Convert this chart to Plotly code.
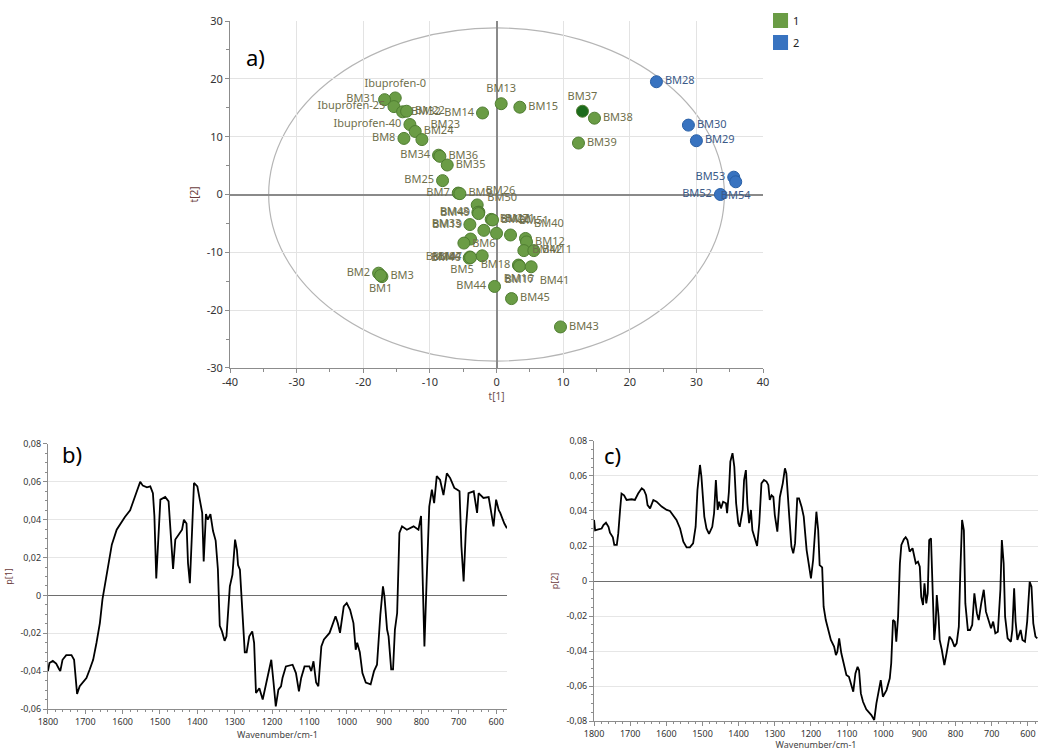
import plotly.graph_objects as go

# ---------------- Panel a) score scatter t[1] / t[2] ----------------
names = ["Ibuprofen-0", "BM31", "Ibuprofen-25", "BM32", "BM22", "BM14", "BM13", "BM15",
         "BM37", "BM38", "BM39", "Ibuprofen-40", "BM24", "BM23", "BM8", "BM34", "BM36",
         "BM35", "BM25", "BM7", "BM9", "BM26", "BM50", "BM48", "BM49", "BM27", "BM20",
         "BM33", "BM6", "BM21", "BM51", "BM19", "BM10", "BM40", "BM12", "BM42", "BM11",
         "BM4", "BM46", "BM47", "BM5", "BM18", "BM16", "BM17", "BM41", "BM44", "BM45",
         "BM43", "BM2", "BM3", "BM1",
         "BM28", "BM30", "BM29", "BM53", "BM54", "BM52"]
t1 = [-15.2, -16.8, -15.4, -14.1, -13.5, -2.1, 0.7, 3.5,
      12.9, 14.7, 12.3, -13.0, -12.2, -11.2, -13.9, -8.7, -8.5,
      -7.4, -8.1, -5.75, -5.5, -2.9, -2.65, -2.8, -2.7, -0.8, -0.6,
      -4.0, -1.9, 0.0, 2.1, -3.9, -4.9, 4.35, 4.5, 4.1, 5.6,
      -4.0, -4.1, -3.9, -2.15, 3.35, 3.3, 3.45, 5.2, -0.3, 2.25,
      9.6, -17.7, -17.2, -17.4,
      24.0, 28.8, 30.0, 35.6, 35.9, 33.6]
t2 = [16.7, 16.4, 15.2, 14.3, 14.4, 14.1, 15.7, 15.1,
      14.4, 13.2, 8.9, 12.1, 10.9, 9.5, 9.7, 6.8, 6.6,
      5.1, 2.4, 0.25, 0.15, -1.8, -3.05, -3.1, -3.3, -4.3, -4.4,
      -5.2, -6.2, -6.7, -7.0, -7.7, -8.4, -7.6, -8.2, -9.7, -9.7,
      -10.8, -11.0, -10.9, -10.6, -12.3, -12.2, -12.4, -12.5, -15.9, -18.0,
      -22.9, -13.6, -14.2, -14.0,
      19.5, 12.0, 9.3, 3.0, 2.2, 0.0]
groups = [1] * 51 + [2] * 6
group_labels = ["1", "2"]

# Hotelling ellipse semi-axes
ellipse_a = 34.2
ellipse_b = 28.8

# ---------------- Panel b) loading p[1] ----------------
wn_b = [1800, 1796, 1787, 1778, 1770, 1767, 1761, 1751, 1737, 1730, 1726, 1722, 1715, 1706,
        1697, 1688, 1679, 1670, 1661, 1654, 1647, 1638, 1629, 1616, 1603, 1594, 1580, 1571,
        1562, 1553, 1546, 1535, 1526, 1519, 1515, 1510, 1504, 1499, 1486, 1477, 1472, 1465,
        1459, 1450, 1441, 1436, 1429, 1425, 1420, 1414, 1409, 1400, 1392, 1387, 1383, 1377,
        1372, 1365, 1358, 1351, 1345, 1340, 1334, 1327, 1322, 1313, 1306, 1299, 1294, 1291,
        1286, 1279, 1273, 1268, 1261, 1253, 1248, 1243, 1234, 1225, 1217, 1208, 1202, 1196,
        1190, 1183, 1176, 1172, 1163, 1145, 1136, 1128, 1122, 1113, 1100, 1095, 1089, 1082,
        1076, 1068, 1061, 1046, 1030, 1024, 1018, 1008, 1000, 991, 982, 976, 972, 965, 958,
        949, 936, 927, 919, 910, 903, 899, 892, 888, 881, 876, 871, 865, 859, 852, 839, 821,
        808, 801, 796, 792, 786, 779, 772, 766, 759, 750, 741, 732, 723, 712, 705, 698, 693,
        687, 681, 674, 660, 651, 647, 634, 620, 611, 607, 600, 593, 589, 584, 578, 571]
p1 = [-0.040, -0.0357, -0.0346, -0.036, -0.039, -0.040, -0.034, -0.0315, -0.0315, -0.034,
      -0.043, -0.052, -0.048, -0.046, -0.0436, -0.039, -0.034, -0.025, -0.0146, -0.002,
      0.0065, 0.015, 0.0268, 0.0347, 0.039, 0.0414, 0.045, 0.0506, 0.055, 0.060, 0.058,
      0.0571, 0.0576, 0.054, 0.042, 0.009, 0.0347, 0.0506, 0.052, 0.0497, 0.0347, 0.014,
      0.0295, 0.032, 0.0347, 0.040, 0.038, 0.017, 0.0065, 0.0347, 0.0594, 0.0576, 0.0488,
      0.0436, 0.018, 0.043, 0.040, 0.043, 0.034, 0.029, 0.014, -0.016, -0.019, -0.024,
      -0.0216, 0.0048, 0.011, 0.0295, 0.024, 0.016, 0.0136, -0.011, -0.030, -0.030,
      -0.0216, -0.019, -0.025, -0.0515, -0.049, -0.055, -0.048, -0.0392, -0.034, -0.046,
      -0.0586, -0.0498, -0.048, -0.0436, -0.0375, -0.0366, -0.041, -0.0507, -0.0436,
      -0.0375, -0.0375, -0.040, -0.0348, -0.046, -0.048, -0.027, -0.0233, -0.0198, -0.011,
      -0.0146, -0.0198, -0.0058, -0.004, -0.0076, -0.0146, -0.0287, -0.025, -0.030, -0.041,
      -0.046, -0.047, -0.040, -0.0366, -0.0102, 0.0048, -0.0005, -0.018, -0.0216, -0.039,
      -0.039, -0.018, -0.0093, 0.033, 0.0365, 0.0347, 0.0365, 0.0347, 0.042, 0.003, -0.027,
      0.0083, 0.047, 0.0559, 0.0488, 0.063, 0.061, 0.053, 0.0645, 0.062, 0.0568, 0.0559,
      0.055, 0.026, 0.0074, 0.0347, 0.054, 0.055, 0.0436, 0.054, 0.0515, 0.052, 0.0418,
      0.0365, 0.0506, 0.045, 0.0436, 0.041, 0.038, 0.0355]

# ---------------- Panel c) loading p[2] ----------------
wn_c = [1800, 1797, 1788, 1779, 1774, 1767, 1760, 1756, 1748, 1744, 1737, 1733, 1728, 1724,
        1717, 1710, 1696, 1687, 1678, 1668, 1662, 1656, 1652, 1645, 1636, 1627, 1613, 1599,
        1590, 1581, 1572, 1562, 1553, 1544, 1535, 1526, 1519, 1514, 1507, 1503, 1495, 1489,
        1482, 1473, 1468, 1463, 1458, 1454, 1449, 1443, 1435, 1432, 1427, 1423, 1417, 1412,
        1407, 1401, 1397, 1389, 1385, 1380, 1376, 1371, 1366, 1362, 1355, 1349, 1343, 1337,
        1330, 1323, 1318, 1314, 1309, 1304, 1300, 1293, 1286, 1278, 1272, 1268, 1260, 1254,
        1249, 1244, 1238, 1233, 1226, 1220, 1212, 1206, 1200, 1194, 1189, 1185, 1180, 1176,
        1169, 1165, 1159, 1153, 1145, 1136, 1131, 1127, 1122, 1116, 1109, 1102, 1095, 1088,
        1083, 1077, 1071, 1067, 1062, 1056, 1047, 1033, 1025, 1019, 1012, 1007, 1001, 991,
        982, 978, 973, 968, 964, 959, 954, 950, 943, 938, 933, 927, 919, 915, 910, 904, 899,
        895, 890, 886, 881, 877, 873, 868, 864, 859, 855, 852, 847, 844, 838, 831, 825, 817,
        810, 803, 797, 791, 787, 782, 777, 773, 766, 760, 754, 748, 741, 736, 729, 722, 716,
        708, 702, 696, 690, 683, 676, 672, 667, 663, 656, 647, 643, 638, 634, 629, 624, 620,
        615, 608, 602, 595, 590, 585, 579, 574]
p2 = [0.0349, 0.029, 0.0295, 0.030, 0.032, 0.0333, 0.031, 0.0276, 0.025, 0.0206, 0.0206,
      0.0272, 0.0406, 0.050, 0.049, 0.0463, 0.0467, 0.0463, 0.050, 0.053, 0.052, 0.049,
      0.0434, 0.0415, 0.0463, 0.0453, 0.0425, 0.0406, 0.040, 0.0377, 0.0349, 0.030, 0.0225,
      0.0192, 0.0192, 0.0215, 0.031, 0.052, 0.0663, 0.0596, 0.0368, 0.030, 0.0269, 0.031,
      0.0387, 0.0577, 0.0406, 0.0453, 0.0415, 0.0453, 0.0444, 0.0387, 0.051, 0.0682, 0.073,
      0.0653, 0.0444, 0.033, 0.031, 0.0406, 0.0577, 0.0634, 0.0444, 0.033, 0.0406, 0.029,
      0.0234, 0.020, 0.033, 0.0558, 0.0577, 0.0568, 0.0549, 0.0463, 0.049, 0.048, 0.0377,
      0.0282, 0.048, 0.0558, 0.0644, 0.0615, 0.0368, 0.0196, 0.0158, 0.0215, 0.0472, 0.0472,
      0.0425, 0.0368, 0.0177, 0.0101, 0.0015, 0.012, 0.029, 0.0396, 0.029, 0.0091, 0.0078,
      -0.0147, -0.0223, -0.028, -0.0337, -0.0375, -0.0423, -0.0404, -0.0328, -0.0413,
      -0.047, -0.0537, -0.0547, -0.0594, -0.0632, -0.0528, -0.049, -0.0509, -0.0642, -0.069,
      -0.0733, -0.0766, -0.0794, -0.0699, -0.0619, -0.0566, -0.0661, -0.0623, -0.0556,
      -0.047, -0.0223, -0.0232, -0.0347, -0.0204, 0.0101, 0.0206, 0.0238, 0.025, 0.0234,
      0.0168, 0.0187, 0.0149, 0.0101, 0.011, 0.0082, -0.009, -0.0137, -0.0013, -0.0128,
      -0.007, 0.0234, 0.0244, -0.005, -0.0337, -0.0242, -0.008, -0.0204, -0.0337, -0.0394,
      -0.048, -0.0413, -0.0318, -0.0337, -0.0375, -0.0356, -0.0261, 0.0044, 0.0349, 0.029,
      -0.0128, -0.028, -0.028, -0.0251, -0.007, -0.0185, -0.0223, -0.0128, -0.005, -0.0175,
      -0.0232, -0.027, -0.0232, -0.0299, -0.029, -0.005, 0.0234, 0.0101, -0.0204, -0.0328,
      -0.0347, -0.028, -0.0042, -0.0232, -0.0337, -0.0309, -0.028, -0.0337, -0.0347,
      -0.0232, -0.0004, -0.0032, -0.0242, -0.0318, -0.0328]

# ---------------- Tick labels ----------------
a_xticks = [-40, -30, -20, -10, 0, 10, 20, 30, 40]
a_xticktext = ["-40", "-30", "-20", "-10", "0", "10", "20", "30", "40"]
a_yticks = [-30, -20, -10, 0, 10, 20, 30]
a_yticktext = ["-30", "-20", "-10", "0", "10", "20", "30"]
b_yticks = [-0.06, -0.04, -0.02, 0, 0.02, 0.04, 0.06, 0.08]
b_yticktext = ["-0,06", "-0,04", "-0,02", "0", "0,02", "0,04", "0,06", "0,08"]
c_yticks = [-0.08, -0.06, -0.04, -0.02, 0, 0.02, 0.04, 0.06, 0.08]
c_yticktext = ["-0,08", "-0,06", "-0,04", "-0,02", "0", "0,02", "0,04", "0,06", "0,08"]
wn_ticks = [1800, 1700, 1600, 1500, 1400, 1300, 1200, 1100, 1000, 900, 800, 700, 600]

# ---------------- Styles ----------------
FONT = "Noto Sans"
GREEN = "#6a9c45"
GREEN_EDGE = "#4f7d31"
DARK_GREEN = "#1c6b1c"
BLUE = "#3873c0"
BLUE_EDGE = "#285fa6"
label_pos = {
    "Ibuprofen-0": "top center", "BM31": "middle left", "Ibuprofen-25": "middle left",
    "BM14": "middle left", "BM13": "top center", "BM37": "top center",
    "Ibuprofen-40": "middle left", "BM23": "top right", "BM8": "middle left",
    "BM34": "middle left", "BM25": "middle left", "BM7": "middle left",
    "BM26": "top right", "BM50": "top right", "BM48": "middle left", "BM49": "middle left",
    "BM33": "middle left", "BM6": "bottom center", "BM21": "top right", "BM51": "top right",
    "BM19": "top left", "BM10": "bottom left", "BM40": "top right", "BM4": "middle left",
    "BM46": "middle left", "BM47": "middle left", "BM5": "bottom left", "BM18": "middle left",
    "BM16": "bottom center", "BM17": "bottom center", "BM41": "bottom right",
    "BM44": "middle left", "BM2": "middle left", "BM1": "bottom center",
    "BM53": "middle left", "BM54": "bottom center", "BM52": "middle left",
}

fig = go.Figure()

for g, fill, edge, tcol in [(1, GREEN, GREEN_EDGE, "#6f6f4c"), (2, BLUE, BLUE_EDGE, "#3b5a88")]:
    idx = [i for i, gg in enumerate(groups) if gg == g]
    fills = [DARK_GREEN if names[i] == "BM37" else fill for i in idx]
    fig.add_trace(go.Scatter(
        x=[t1[i] for i in idx], y=[t2[i] for i in idx],
        mode="markers+text",
        text=[names[i] for i in idx],
        textposition=[label_pos.get(names[i], "middle right") for i in idx],
        textfont=dict(family=FONT, size=11, color=tcol),
        marker=dict(size=12, color=fills, line=dict(color=edge, width=1)),
        name=group_labels[g - 1], showlegend=False,
        xaxis="x", yaxis="y", cliponaxis=False,
    ))

fig.add_trace(go.Scatter(x=wn_b, y=p1, mode="lines", line=dict(color="black", width=1.8),
                         showlegend=False, xaxis="x2", yaxis="y2"))
fig.add_trace(go.Scatter(x=wn_c, y=p2, mode="lines", line=dict(color="black", width=1.8),
                         showlegend=False, xaxis="x3", yaxis="y3"))

axis_common = dict(showline=True, linecolor="#8c8c8c", linewidth=1, ticks="outside",
                   tickcolor="#8c8c8c", ticklen=4, mirror=False, automargin=False)

fig.update_layout(
    width=1038, height=751, autosize=False,
    margin=dict(l=0, r=0, t=0, b=0, autoexpand=False),
    paper_bgcolor="white", plot_bgcolor="white",
    font=dict(family=FONT, color="#333333"),
    xaxis=dict(domain=[0.2216, 0.7351], range=[-40, 40], tickvals=a_xticks,
               ticktext=a_xticktext, showgrid=True, gridcolor="#e3e3e3",
               zeroline=True, zerolinecolor="#8a8a8a", zerolinewidth=1.5,
               tickfont=dict(size=11, color="#333"), anchor="y",
               minor=dict(dtick=5, ticks="outside", ticklen=3, tickcolor="#8c8c8c", showgrid=False),
               title=dict(text="t[1]", font=dict(size=10, color="#6b5050"), standoff=2),
               **axis_common),
    yaxis=dict(domain=[0.51, 0.972], range=[-30, 30], tickvals=a_yticks,
               ticktext=a_yticktext, showgrid=True, gridcolor="#e3e3e3",
               zeroline=True, zerolinecolor="#8a8a8a", zerolinewidth=1.5,
               tickfont=dict(size=11, color="#333"), anchor="x",
               minor=dict(dtick=5, ticks="outside", ticklen=3, tickcolor="#8c8c8c", showgrid=False),
               title=dict(text="t[2]", font=dict(size=10, color="#6b3c3c"), standoff=6),
               **axis_common),
    xaxis2=dict(domain=[0.0462, 0.4884], range=[1800, 571], tickvals=wn_ticks,
                showgrid=False, zeroline=False, tickfont=dict(size=9, color="#333"),
                anchor="y2",
                minor=dict(dtick=20, ticks="outside", ticklen=2, tickcolor="#8c8c8c"),
                title=dict(text="Wavenumber/cm-1", font=dict(size=9, color="#444"), standoff=2),
                **axis_common),
    yaxis2=dict(domain=[0.0559, 0.4088], range=[-0.06, 0.08], tickvals=b_yticks,
                ticktext=b_yticktext, showgrid=True, gridcolor="#e6e6e6",
                zeroline=True, zerolinecolor="#6e6e6e", zerolinewidth=1,
                tickfont=dict(size=9, color="#333"), anchor="x2",
                minor=dict(dtick=0.005, ticks="outside", ticklen=2, tickcolor="#8c8c8c", showgrid=False),
                title=dict(text="p[1]", font=dict(size=9, color="#6b3c3c"), standoff=6),
                **axis_common),
    xaxis3=dict(domain=[0.5723, 1.0], range=[1800, 572], tickvals=wn_ticks,
                showgrid=False, zeroline=False, tickfont=dict(size=9, color="#333"),
                anchor="y3",
                minor=dict(dtick=20, ticks="outside", ticklen=2, tickcolor="#8c8c8c"),
                title=dict(text="Wavenumber/cm-1", font=dict(size=9, color="#444"), standoff=2),
                **axis_common),
    yaxis3=dict(domain=[0.0399, 0.4128], range=[-0.08, 0.08], tickvals=c_yticks,
                ticktext=c_yticktext, showgrid=True, gridcolor="#e6e6e6",
                zeroline=True, zerolinecolor="#6e6e6e", zerolinewidth=1,
                tickfont=dict(size=9, color="#333"), anchor="x3",
                minor=dict(dtick=0.005, ticks="outside", ticklen=2, tickcolor="#8c8c8c", showgrid=False),
                title=dict(text="p[2]", font=dict(size=9, color="#6b3c3c"), standoff=6),
                **axis_common),
)

# Hotelling T2 ellipse
fig.add_shape(type="circle", xref="x", yref="y", x0=-ellipse_a, x1=ellipse_a,
              y0=-ellipse_b, y1=ellipse_b, line=dict(color="#b5b5b5", width=1.2), layer="below")

# Legend squares
for (y0, y1, col, lab, ty) in [(0.9627, 0.9827, GREEN, group_labels[0], 0.9727),
                               (0.9334, 0.9534, BLUE, group_labels[1], 0.9434)]:
    fig.add_shape(type="rect", xref="paper", yref="paper", x0=0.7447, x1=0.7592,
                  y0=y0, y1=y1, fillcolor=col, line=dict(width=0))
    fig.add_annotation(xref="paper", yref="paper", x=0.7625, y=ty, text=lab, showarrow=False,
                       xanchor="left", yanchor="middle", font=dict(size=11, color="#222"))

# Panel letters
for txt, px, py in [("a)", 255, 57), ("b)", 72, 454), ("c)", 612, 455)]:
    fig.add_annotation(xref="paper", yref="paper", x=px / 1038, y=1 - py / 751, text=txt,
                       showarrow=False, xanchor="center", yanchor="middle",
                       font=dict(size=22, color="black", family=FONT))

fig.write_html("out.html", config={"displayModeBar": False},
               post_script="document.body.style.margin='0';document.body.style.overflow='hidden';")
